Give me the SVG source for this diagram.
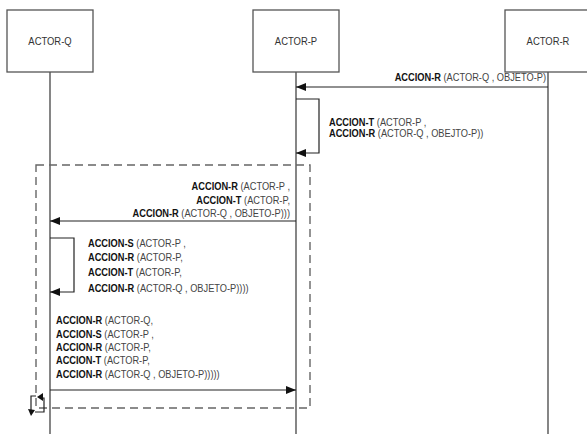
<svg xmlns="http://www.w3.org/2000/svg" width="587" height="434" viewBox="0 0 587 434">
  <style>
    .box { fill: #ffffff; stroke: #555555; stroke-width: 1.3; }
    .life { stroke: #444444; stroke-width: 1.3; fill: none; }
    .msg { stroke: #222222; stroke-width: 1.2; fill: none; }
    .frame { stroke: #666666; stroke-width: 1.4; fill: none; stroke-dasharray: 8 5; }
    .actor { font-family: "Liberation Sans", Arial, sans-serif; font-size: 10.5px; fill: #333333; text-anchor: middle; }
    .lbl { font-family: "Liberation Sans", Arial, sans-serif; font-size: 10.3px; fill: #444444; }
    .b { font-weight: bold; fill: #111111; }
    .end { text-anchor: end; }
  </style>
  <defs>
    <marker id="ah" markerWidth="10" markerHeight="8" refX="10" refY="4" orient="auto" markerUnits="userSpaceOnUse">
      <path d="M0,0 L10,4 L0,8 Z" fill="#111111"/>
    </marker>
  </defs>
  <rect width="587" height="434" fill="#ffffff"/>

  <g id="lifelines">
    <line class="life" x1="50" y1="72" x2="50" y2="434"/>
    <line class="life" x1="296" y1="72" x2="296" y2="434"/>
    <line class="life" x1="548" y1="72" x2="548" y2="434"/>
  </g>

  <g id="actor-q">
    <rect class="box" x="7" y="10" width="86" height="62"/>
    <text class="actor" transform="translate(50,45) scale(0.9,1)" x="0" y="0">ACTOR-Q</text>
  </g>
  <g id="actor-p">
    <rect class="box" x="253" y="10" width="86" height="62"/>
    <text class="actor" transform="translate(296,45) scale(0.9,1)" x="0" y="0">ACTOR-P</text>
  </g>
  <g id="actor-r">
    <rect class="box" x="505" y="10" width="86" height="62"/>
    <text class="actor" transform="translate(548,45) scale(0.9,1)" x="0" y="0">ACTOR-R</text>
  </g>

  <g id="frame">
    <rect class="frame" x="36" y="165" width="274" height="243"/>
  </g>

  <g id="connectors">
    <line class="msg" x1="548" y1="87" x2="296" y2="87" marker-end="url(#ah)"/>
    <polyline class="msg" points="296,99 319,99 319,153 296,153" marker-end="url(#ah)"/>
    <line class="msg" x1="296" y1="221" x2="50" y2="221" marker-end="url(#ah)"/>
    <polyline class="msg" points="50,238 74,238 74,292 50,292" marker-end="url(#ah)"/>
    <line class="msg" x1="50" y1="390" x2="296" y2="390" marker-end="url(#ah)"/>
  </g>

  <g id="loop-icon">
    <polyline class="msg" points="36,396 31,396 31,411"/>
    <path d="M28,409 L35,410 L31,416 Z" fill="#111111"/>
    <polyline class="msg" points="35,412 44,412 44,398 42,398"/>
    <path d="M43,393 L43,401 L37,397 Z" fill="#111111"/>
  </g>

  <g id="label-1">
    <text class="lbl end" transform="translate(546,81) scale(0.9,1)"><tspan class="b">ACCION-R</tspan> (ACTOR-Q , OBJETO-P)</text>
  </g>
  <g id="label-2" transform="translate(329,0) scale(0.9,1)">
    <text class="lbl" x="0" y="126"><tspan class="b">ACCION-T</tspan> (ACTOR-P ,</text>
    <text class="lbl" x="0" y="137"><tspan class="b">ACCION-R</tspan> (ACTOR-Q , OBEJTO-P))</text>
  </g>
  <g id="label-3" transform="translate(290,0) scale(0.9,1)">
    <text class="lbl end" x="0" y="190"><tspan class="b">ACCION-R</tspan> (ACTOR-P ,</text>
    <text class="lbl end" x="0" y="204"><tspan class="b">ACCION-T</tspan> (ACTOR-P,</text>
    <text class="lbl end" x="0" y="217"><tspan class="b">ACCION-R</tspan> (ACTOR-Q , OBJETO-P)))</text>
  </g>
  <g id="label-4" transform="translate(88,0) scale(0.9,1)">
    <text class="lbl" x="0" y="247"><tspan class="b">ACCION-S</tspan> (ACTOR-P ,</text>
    <text class="lbl" x="0" y="261"><tspan class="b">ACCION-R</tspan> (ACTOR-P,</text>
    <text class="lbl" x="0" y="276"><tspan class="b">ACCION-T</tspan> (ACTOR-P,</text>
    <text class="lbl" x="0" y="292"><tspan class="b">ACCION-R</tspan> (ACTOR-Q , OBJETO-P))))</text>
  </g>
  <g id="label-5" transform="translate(56,0) scale(0.9,1)">
    <text class="lbl" x="0" y="324"><tspan class="b">ACCION-R</tspan> (ACTOR-Q,</text>
    <text class="lbl" x="0" y="338"><tspan class="b">ACCION-S</tspan> (ACTOR-P ,</text>
    <text class="lbl" x="0" y="351"><tspan class="b">ACCION-R</tspan> (ACTOR-P,</text>
    <text class="lbl" x="0" y="364"><tspan class="b">ACCION-T</tspan> (ACTOR-P,</text>
    <text class="lbl" x="0" y="378"><tspan class="b">ACCION-R</tspan> (ACTOR-Q , OBJETO-P)))))</text>
  </g>
</svg>
